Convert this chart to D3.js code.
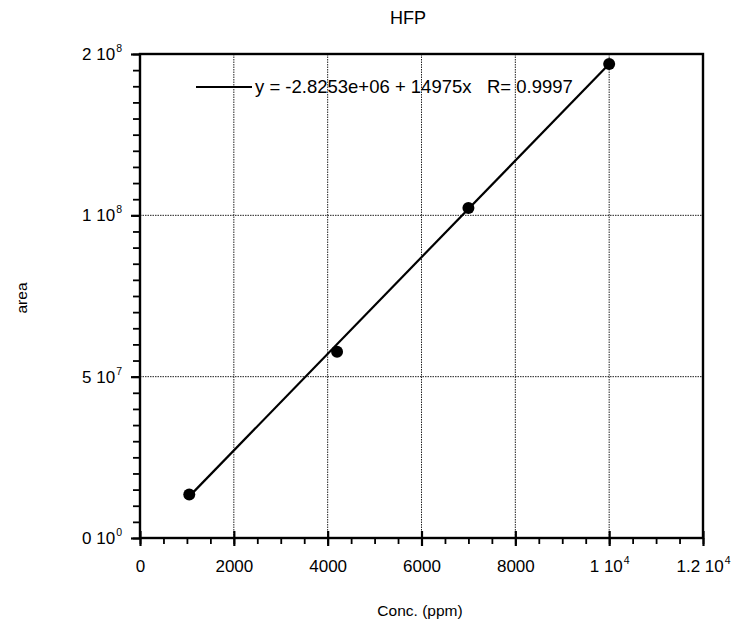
<!DOCTYPE html>
<html>
<head>
<meta charset="utf-8">
<script src="https://cdn.jsdelivr.net/npm/d3@7"></script>
<style>
  html, body { margin: 0; padding: 0; background: #fff; }
  svg { display: block; font-family: "Liberation Sans", Arial, sans-serif; }
  text { white-space: pre; }
</style>
</head>
<body>
<svg id="chart" width="736" height="621"></svg>
<script>
// ---- data ----
const concPpm = [1050, 4200, 7000, 10000];
const areaValues = [13.5e6, 57.7e6, 102.3e6, 146.9e6];
const fitIntercept = -2.8253e6;
const fitSlope = 14975;
const fitR = 0.9997;
const xTickValues = [0, 2000, 4000, 6000, 8000, 10000, 12000];
const xTickLabels = [["0", ""], ["2000", ""], ["4000", ""], ["6000", ""], ["8000", ""], ["1 10", "4"], ["1.2 10", "4"]];
const yTickValues = [0, 5e7, 1e8, 1.5e8];
const yTickLabels = [["0 10", "0"], ["5 10", "7"], ["1 10", "8"], ["2 10", "8"]];
const titleText = "HFP";
const xLabel = "Conc. (ppm)";
const yLabel = "area";
const legendText = "y = -2.8253e+06 + 14975x   R= 0.9997";

// ---- layout ----
const svg = d3.select("#chart");
const L = 140, R = 703, T = 54, B = 538;
const x = d3.scaleLinear().domain([0, 12000]).range([L, R]);
const y = d3.scaleLinear().domain([0, 1.5e8]).range([B, T]);

// grid
const grid = svg.append("g").attr("stroke", "#222").attr("stroke-width", 1).attr("stroke-dasharray", "1.5,1");
grid.selectAll("line.gx").data(xTickValues.slice(1, -1)).join("line")
  .attr("x1", d => x(d)).attr("x2", d => x(d)).attr("y1", T).attr("y2", B);
grid.selectAll("line.gy").data(yTickValues.slice(1, -1)).join("line")
  .attr("y1", d => y(d)).attr("y2", d => y(d)).attr("x1", L).attr("x2", R);

// minor ticks
const xMinor = d3.range(0, 12001, 500);
const yMinor = d3.range(0, 1.5e8 + 1, 5e6);
const ax = svg.append("g");
ax.append("g").attr("transform", `translate(0,${B})`)
  .call(d3.axisBottom(x).tickValues(xMinor).tickSize(6).tickFormat(""))
  .call(g => g.select(".domain").remove())
  .selectAll("line").attr("stroke", "#000").attr("stroke-width", 1.8);
ax.append("g").attr("transform", `translate(${L},0)`)
  .call(d3.axisLeft(y).tickValues(yMinor).tickSize(7).tickFormat(""))
  .call(g => g.select(".domain").remove())
  .selectAll("line").attr("stroke", "#000").attr("stroke-width", 1.8);

// major x ticks + labels
const xAx = svg.append("g").attr("transform", `translate(0,${B})`)
  .call(d3.axisBottom(x).tickValues(xTickValues).tickSize(8).tickPadding(14).tickFormat(""));
xAx.select(".domain").remove();
xAx.selectAll(".tick line").attr("stroke", "#000").attr("stroke-width", 2.2).attr("y1", -7);
xAx.selectAll(".tick text").each(function(d, i) {
  const t = d3.select(this).attr("fill", "#000").attr("font-size", 17).attr("font-family", "Liberation Sans, Arial, sans-serif");
  const lab = xTickLabels[i];
  t.append("tspan").text(lab[0]);
  if (lab[1]) t.append("tspan").attr("font-size", 10.5).attr("dy", -8).attr("dx", 1).text(lab[1]);
});

// major y ticks + labels
const yAx = svg.append("g").attr("transform", `translate(${L},0)`)
  .call(d3.axisLeft(y).tickValues(yTickValues).tickSize(9).tickPadding(9).tickFormat(""));
yAx.select(".domain").remove();
yAx.selectAll(".tick line").attr("stroke", "#000").attr("stroke-width", 2.2);
yAx.selectAll(".tick text").each(function(d, i) {
  const t = d3.select(this).attr("fill", "#000").attr("font-size", 17).attr("font-family", "Liberation Sans, Arial, sans-serif");
  const lab = yTickLabels[i];
  t.append("tspan").text(lab[0]);
  t.append("tspan").attr("font-size", 10.5).attr("dy", -8).attr("dx", 1).text(lab[1]);
});

// frame
svg.append("rect").attr("x", L).attr("y", T).attr("width", R - L).attr("height", B - T)
  .attr("fill", "none").attr("stroke", "#000").attr("stroke-width", 2.4);

// fit line
const xr = d3.extent(concPpm);
svg.append("line")
  .attr("x1", x(xr[0])).attr("y1", y(fitIntercept + fitSlope * xr[0]))
  .attr("x2", x(xr[1])).attr("y2", y(fitIntercept + fitSlope * xr[1]))
  .attr("stroke", "#000").attr("stroke-width", 2.2);

// points
svg.selectAll("circle.pt").data(concPpm).join("circle")
  .attr("cx", d => x(d)).attr("cy", (d, i) => y(areaValues[i])).attr("r", 6).attr("fill", "#000");

// legend
svg.append("line").attr("x1", 196).attr("x2", 252).attr("y1", 87).attr("y2", 87).attr("stroke", "#000").attr("stroke-width", 1.8);
svg.append("text").attr("x", 255).attr("y", 93).attr("font-size", 18.5).attr("fill", "#000").text(legendText);

// titles
svg.append("text").attr("x", 408).attr("y", 24).attr("text-anchor", "middle").attr("font-size", 18).text(titleText);
svg.append("text").attr("x", 420).attr("y", 616).attr("text-anchor", "middle").attr("font-size", 15.5).text(xLabel);
svg.append("text").attr("transform", "translate(27,298) rotate(-90)").attr("text-anchor", "middle").attr("font-size", 15.5).text(yLabel);
</script>
</body>
</html>
